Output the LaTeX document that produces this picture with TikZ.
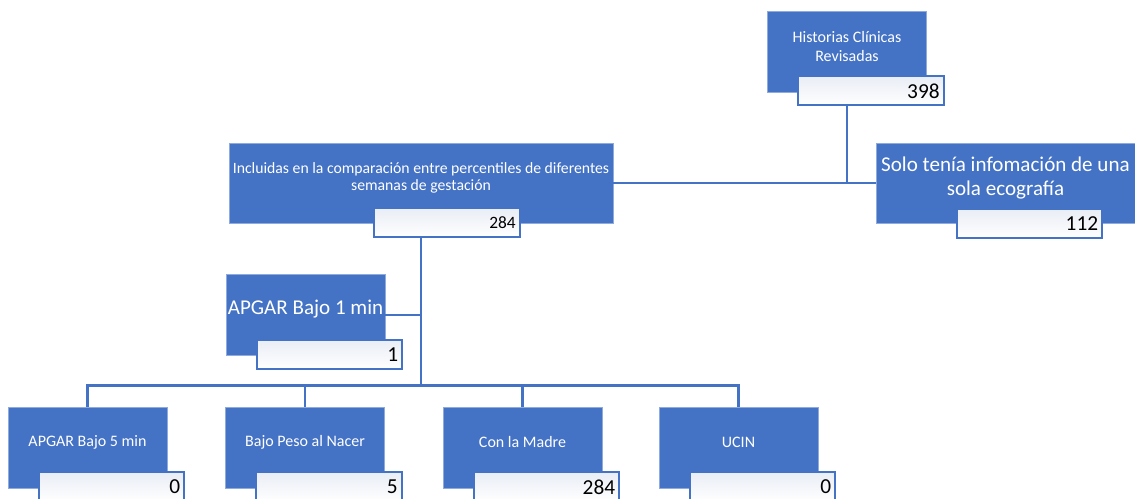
\documentclass[tikz,border=0pt]{standalone}
\usepackage{fontspec}
\setmainfont{Carlito}
\usetikzlibrary{calc}

\definecolor{boxblue}{HTML}{4472C4}
\definecolor{countfill}{HTML}{E9EDF5}

\tikzset{
    bluebox/.style={rectangle, fill=boxblue, draw=boxblue!60!white, line width=0.6pt,
        inner sep=0pt, minimum width=119.25pt, minimum height=60.75pt},
    boxtext/.style={text=white, align=center, inner sep=0pt},
    countbox/.style={rectangle, draw=boxblue, line width=1.5pt,
        top color=countfill, middle color=countfill, bottom color=white,
        inner xsep=3pt, inner ysep=0pt, text width=103pt, align=right,
        minimum height=21.75pt, font=\fontsize{16}{18}\selectfont},
    link/.style={draw=boxblue, line width=2pt}
}

\begin{document}
\begin{tikzpicture}[x=0.75pt, y=-0.75pt]
        \useasboundingbox (0, 0) rectangle (1135, 499);
        % boxes
        \node[bluebox] (hist) at (847, 51.5) {};
        \node[bluebox, minimum width=288pt, minimum height=60pt] (incl) at (421, 183) {};
        \node[bluebox, minimum width=194.25pt, minimum height=60pt] (solo) at (1005.5, 183) {};
        \node[bluebox] (apg1) at (305.5, 315) {};
        \node[bluebox] (apg5) at (87.5, 447.5) {};
        \node[bluebox] (peso) at (305, 447.5) {};
        \node[bluebox] (madre) at (522.5, 447.5) {};
        \node[bluebox] (ucin) at (738.5, 447.5) {};
        % box texts
        \node[boxtext, font=\fontsize{12}{14.5}\selectfont] (histtxt) at ($(hist)+(0, -5)$) {Historias Clínicas\\Revisadas};
        \node[boxtext, font=\fontsize{11.8}{12.5}\selectfont] (incltxt) at ($(incl)+(0, -5)$) {Incluidas en la comparación entre percentiles de diferentes\\semanas de gestación};
        \node[boxtext, font=\fontsize{15.8}{18}\selectfont] (solotxt) at ($(solo)+(0, -5)$) {Solo tenía infomación de una\\sola ecografía};
        \node[boxtext, font=\fontsize{15.8}{18}\selectfont] (apg1txt) at ($(apg1)+(0, -6)$) {APGAR Bajo 1 min};
        \node[boxtext, font=\fontsize{12}{14}\selectfont] (apg5txt) at ($(apg5)+(0, -5)$) {APGAR Bajo 5 min};
        \node[boxtext, font=\fontsize{12}{14}\selectfont] (pesotxt) at ($(peso)+(0, -5)$) {Bajo Peso al Nacer};
        \node[boxtext, font=\fontsize{12}{14}\selectfont] (madretxt) at ($(madre)+(0, -5)$) {Con la Madre};
        \node[boxtext, font=\fontsize{12}{14}\selectfont] (ucintxt) at ($(ucin)+(0, -5)$) {UCIN};
        % counts
        \node[countbox, anchor=north] (histnum) at ($(hist.south)+(24, -17)$) {398};
        \node[countbox, anchor=north, font=\fontsize{13}{15}\selectfont] (inclnum) at ($(incl.south)+(26, -16)$) {284};
        \node[countbox, anchor=north] (solonum) at ($(solo.south)+(24, -15)$) {112};
        \node[countbox, anchor=north] (apg1num) at ($(apg1.south)+(24, -17)$) {1};
        \node[countbox, anchor=north] (apg5num) at ($(apg5.south)+(24, -17)$) {0};
        \node[countbox, anchor=north] (pesonum) at ($(peso.south)+(24, -17)$) {5};
        \node[countbox, anchor=north] (madrenum) at ($(madre.south)+(24, -17)$) {284};
        \node[countbox, anchor=north] (ucinnum) at ($(ucin.south)+(24, -17)$) {0};
        % connectors
        \coordinate (bus) at ($(apg5.north)+(0, -21)$);
        \draw[link] (hist.south |- histnum.south) -- (hist.south |- incl.east);
        \draw[link] (incl.east) -- (solo.west);
        \draw[link] (incl.south |- inclnum.south) -- (incl.south |- bus);
        \draw[link] (apg1.east) -- (apg1.east -| incl.south);
        \draw[link] (apg5.north) -- (bus) -| (ucin.north);
        \draw[link] (peso.north) -- (peso.north |- bus);
        \draw[link] (madre.north) -- (madre.north |- bus);
    \end{tikzpicture}
\end{document}
